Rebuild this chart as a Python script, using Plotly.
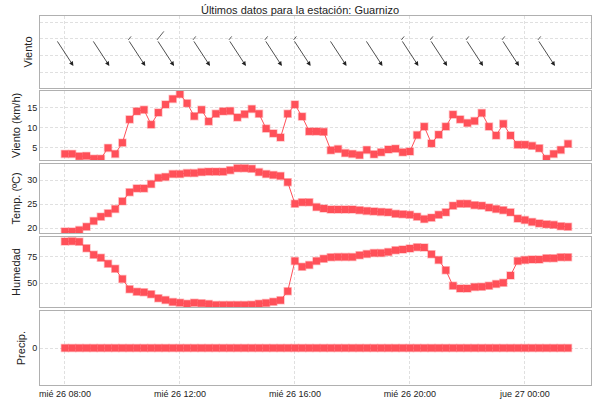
import pandas as pd
import plotly.graph_objects as go
from plotly.subplots import make_subplots

# 15-minute readings starting mié 26 08:00
times = pd.date_range("2024-06-26 08:00", periods=71, freq="15min")

wind_speed = [3.5, 3.5, 2.9, 3.0, 2.3, 2.3, 5.0, 3.5, 6.3, 12.1, 14.1, 14.5, 10.8, 13.8, 15.8,
              17.2, 18.4, 16.1, 12.9, 14.5, 11.6, 13.5, 14.1, 14.2, 12.6, 13.4, 14.7, 13.5, 9.8,
              8.6, 7.6, 13.5, 15.8, 12.8, 9.1, 9.1, 9.0, 4.4, 4.7, 3.7, 3.5, 3.2, 4.5, 3.4, 3.9,
              4.6, 4.8, 3.9, 4.1, 8.2, 10.3, 6.1, 8.3, 10.3, 13.3, 12.1, 11.2, 11.7, 13.7, 10.3,
              8.1, 11.0, 8.1, 5.8, 5.8, 5.5, 4.9, 2.3, 3.5, 4.5, 6.0]

temperature = [19.3, 19.3, 19.6, 20.3, 21.5, 22.4, 23.1, 24.0, 25.6, 27.5, 28.3, 28.3, 29.2, 30.5,
               30.7, 31.3, 31.3, 31.5, 31.5, 31.7, 31.8, 31.8, 31.8, 32.1, 32.5, 32.5, 32.4, 31.7,
               31.3, 31.1, 30.9, 29.6, 25.1, 25.4, 25.4, 24.4, 24.1, 23.9, 23.9, 23.9, 23.9, 23.75,
               23.6, 23.5, 23.4, 23.3, 23.0, 22.9, 22.8, 22.4, 21.9, 22.2, 22.8, 23.3, 24.7, 25.1,
               25.1, 24.8, 24.7, 24.3, 24.0, 23.75, 23.3, 22.0, 21.7, 21.3, 21.0, 20.8, 20.7, 20.4,
               20.3]

humidity = [89.4, 89.7, 89.1, 83.0, 76.9, 74.0, 68.3, 63.5, 53.8, 44.2, 41.7, 41.3, 39.4, 35.6,
            34.0, 32.1, 31.4, 30.4, 31.4, 30.8, 30.1, 29.2, 29.2, 29.2, 29.2, 29.2, 29.5, 30.4,
            31.1, 32.4, 33.7, 42.3, 70.8, 65.4, 67.0, 70.8, 73.1, 74.4, 74.7, 74.7, 74.7, 76.3,
            77.6, 78.5, 78.5, 79.5, 81.1, 81.7, 82.7, 84.0, 83.7, 77.2, 71.8, 62.2, 47.4, 44.9,
            44.9, 46.2, 46.5, 47.4, 49.0, 50.3, 57.1, 70.8, 71.8, 72.4, 72.4, 73.4, 73.4, 74.4,
            74.4]

precipitation = [0] * 71

# readings that get a wind arrow; barb 0 = none, 1 = short, 2 = long
barb_idx = [0, 5, 10, 14, 19, 24, 29, 33, 38, 43, 48, 52, 57, 62, 67]
barb_len = [0, 0, 1, 2, 1, 1, 1, 1, 0, 0, 1, 1, 1, 1, 1]

tick_vals = ["2024-06-26 08:00", "2024-06-26 12:00", "2024-06-26 16:00",
             "2024-06-26 20:00", "2024-06-27 00:00"]
tick_text = ["mié 26 08:00", "mié 26 12:00", "mié 26 16:00", "mié 26 20:00", "jue 27 00:00"]

red = "#ff5059"
grid = "#e0e0e0"

fig = make_subplots(rows=5, cols=1, shared_xaxes=True)
domains = [[0.805, 1.0], [0.610, 0.797], [0.412, 0.599], [0.211, 0.401], [0.0, 0.2]]

for i, ys in enumerate([wind_speed, temperature, humidity, precipitation]):
    fig.add_trace(go.Scatter(
        x=times, y=ys, mode="lines+markers",
        line=dict(color=red, width=1),
        marker=dict(symbol="square", size=7, color=red,
                    line=dict(color="rgba(255,80,89,0.35)", width=1.5)),
        showlegend=False,
    ), row=i + 2, col=1)

# wind direction arrows
arrow_y = 1.15
for idx, b in zip(barb_idx, barb_len):
    t = times[idx].strftime("%Y-%m-%d %H:%M")
    fig.add_annotation(x=t, y=arrow_y, xref="x", yref="y", text="",
                       xshift=8.5, yshift=-13, ax=-17, ay=-26,
                       showarrow=True, arrowhead=2, arrowsize=1.1,
                       arrowwidth=0.8, arrowcolor="#222")
    if b:
        bx, by = (4, -5) if b == 1 else (8, -10)
        fig.add_annotation(x=t, y=arrow_y, xref="x", yref="y", text="",
                           xshift=-8.5, yshift=13, ax=bx, ay=by,
                           showarrow=True, arrowhead=0, arrowwidth=0.8,
                           arrowcolor="#333")

ranges = [[-0.95, 3.36], [2, 19.2], [19.0, 33.4], [27.2, 93.6], [-1, 1]]
titles = ["Viento", "Viento (km/h)", "Temp. (ºC)", "Humedad", "Precip."]
for i in range(5):
    yk = f"yaxis{'' if i == 0 else i + 1}"
    xk = f"xaxis{'' if i == 0 else i + 1}"
    fig.update_layout(**{
        yk: dict(domain=domains[i], range=ranges[i], title=dict(text=titles[i], standoff=4),
                 showgrid=True, gridcolor=grid, griddash="3px,2px", zeroline=False,
                 showline=True, mirror=True, linecolor="#b0b0b0", ticks="",
                 fixedrange=True, automargin=False),
        xk: dict(type="date", range=["2024-06-26 07:08", "2024-06-27 02:18"], showgrid=True,
                 gridcolor=grid, griddash="3px,2px", zeroline=False, showline=True,
                 mirror=True, linecolor="#b0b0b0", tickvals=tick_vals,
                 ticktext=tick_text, showticklabels=(i == 4), ticks="",
                 automargin=False),
    })

fig.update_layout(yaxis=dict(tickvals=[0, 1, 2, 3], showticklabels=False),
                  yaxis2=dict(tickvals=[5, 10, 15]),
                  yaxis3=dict(tickvals=[20, 25, 30]),
                  yaxis4=dict(tickvals=[50, 75]),
                  yaxis5=dict(tickvals=[0]))

fig.update_layout(
    title=dict(text="Últimos datos para la estación: Guarnizo", x=0.5, y=0.985,
               font=dict(size=11, color="#222"), automargin=False),
    width=600, height=400,
    margin=dict(l=40, r=9, t=16, b=15, autoexpand=False),
    paper_bgcolor="white", plot_bgcolor="white",
    font=dict(family="Liberation Sans, Arial", size=9, color="#222"),
)

fig.write_html("out.html", config={"displayModeBar": False},
               post_script="document.body.style.margin='0';")
